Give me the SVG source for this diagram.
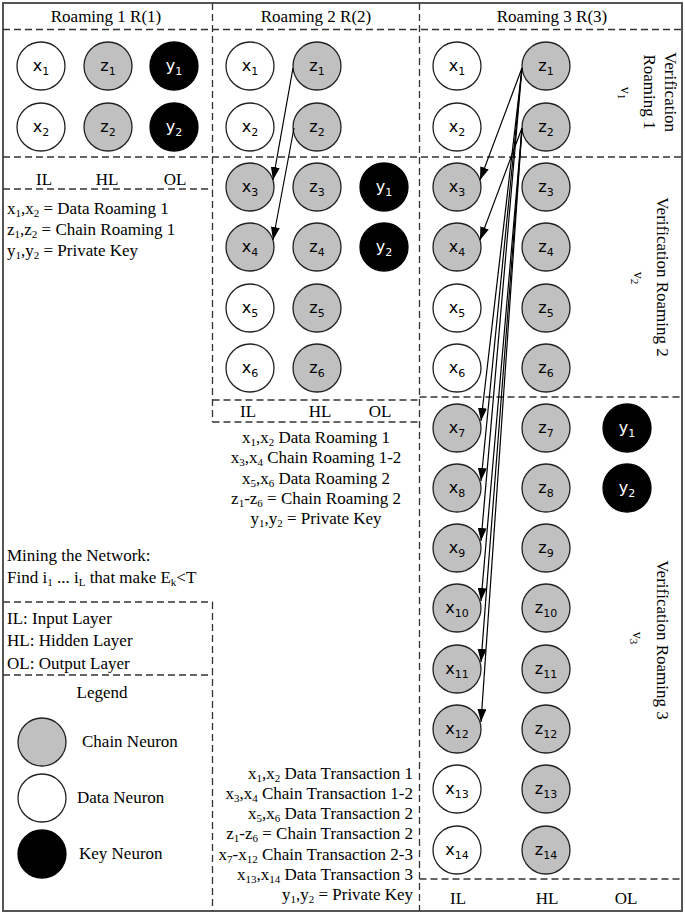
<svg xmlns="http://www.w3.org/2000/svg" width="685" height="915" viewBox="0 0 685 915">
<style>
.t{font-family:"Liberation Serif","Times New Roman",serif;font-size:17px;fill:#000}
.s{font-size:11px}
.m{text-anchor:middle}
.e{text-anchor:end}
.n{font-family:"DejaVu Sans",Verdana,sans-serif;font-size:16px;text-anchor:middle;fill:#000}
.ns{font-size:11px}
.w{fill:#fff;stroke:#222;stroke-width:1.3}
.g{fill:#c0c0c0;stroke:#222;stroke-width:1.3}
.k{fill:#000;stroke:#000;stroke-width:1.3}
.kt{fill:#fff}
.d{stroke:#333;stroke-width:1.3;stroke-dasharray:7 4;fill:none}
.a{stroke:#000;stroke-width:1.2;fill:none;marker-end:url(#ah)}
</style>
<defs>
<marker id="ah" markerUnits="userSpaceOnUse" markerWidth="13" markerHeight="9" refX="13" refY="4.5" orient="auto"><path d="M0,0 L13,4.5 L0,9 z" fill="#000"/></marker>
</defs>
<rect width="685" height="915" fill="#fff"/>
<g id="frame">
<rect x="3" y="3" width="679" height="908" fill="none" stroke="#555" stroke-width="2"/>
<line class="d" x1="3" y1="29.5" x2="682" y2="29.5"/>
<line class="d" x1="3" y1="157" x2="682" y2="157"/>
<line class="d" x1="3" y1="189" x2="212.5" y2="189"/>
<line class="d" x1="212.5" y1="3" x2="212.5" y2="422"/>
<line class="d" x1="212.5" y1="602" x2="212.5" y2="911"/>
<line class="d" x1="212.5" y1="400" x2="419.5" y2="400"/>
<line class="d" x1="212.5" y1="422" x2="419.5" y2="422"/>
<line class="d" x1="419.5" y1="3" x2="419.5" y2="911"/>
<line class="d" x1="419.5" y1="397" x2="682" y2="397"/>
<line class="d" x1="419.5" y1="879" x2="682" y2="879"/>
<line class="d" x1="3" y1="602" x2="212.5" y2="602"/>
<line class="d" x1="3" y1="675" x2="212.5" y2="675"/>
</g>
<g id="headers">
<text class="t m" x="106" y="22">Roaming 1 R(1)</text>
<text class="t m" x="316" y="22">Roaming 2 R(2)</text>
<text class="t m" x="552" y="22">Roaming 3 R(3)</text>
</g>
<g id="layer-labels">
<text class="t m" x="44" y="185">IL</text><text class="t m" x="107" y="185">HL</text><text class="t m" x="175" y="185">OL</text>
<text class="t m" x="248" y="417">IL</text><text class="t m" x="320" y="417">HL</text><text class="t m" x="380" y="417">OL</text>
<text class="t m" x="458" y="904">IL</text><text class="t m" x="547" y="904">HL</text><text class="t m" x="626" y="904">OL</text>
</g>
<g id="verification-labels">
<text class="t m" transform="translate(665,92) rotate(90)">Verification</text>
<text class="t m" transform="translate(644,92) rotate(90)">Roaming 1</text>
<text class="t m" transform="translate(621,93) rotate(90)" style="font-size:14px">v<tspan class="s" dy="3">1</tspan></text>
<text class="t m" transform="translate(657,277) rotate(90)">Verification Roaming 2</text>
<text class="t m" transform="translate(634,278) rotate(90)" style="font-size:14px">v<tspan class="s" dy="3">2</tspan></text>
<text class="t m" transform="translate(657,640) rotate(90)">Verification Roaming 3</text>
<text class="t m" transform="translate(633,638) rotate(90)" style="font-size:14px">v<tspan class="s" dy="3">3</tspan></text>
</g>
<g id="notes-r1">
<text class="t" x="7" y="214">x<tspan class="s" dy="3">1</tspan><tspan dy="-3">,x</tspan><tspan class="s" dy="3">2</tspan><tspan dy="-3"> = Data Roaming 1</tspan></text>
<text class="t" x="7" y="235">z<tspan class="s" dy="3">1</tspan><tspan dy="-3">,z</tspan><tspan class="s" dy="3">2</tspan><tspan dy="-3"> = Chain Roaming 1</tspan></text>
<text class="t" x="7" y="256">y<tspan class="s" dy="3">1</tspan><tspan dy="-3">,y</tspan><tspan class="s" dy="3">2</tspan><tspan dy="-3"> = Private Key</tspan></text>
</g>
<g id="mining">
<text class="t" x="7" y="561">Mining the Network:</text>
<text class="t" x="7" y="583">Find i<tspan class="s" dy="3">1</tspan><tspan dy="-3"> ... i</tspan><tspan class="s" dy="3">L</tspan><tspan dy="-3"> that make E</tspan><tspan class="s" dy="3">k</tspan><tspan dy="-3">&lt;T</tspan></text>
</g>
<g id="layer-key">
<text class="t" x="7" y="624">IL: Input Layer</text>
<text class="t" x="7" y="646">HL: Hidden Layer</text>
<text class="t" x="7" y="669">OL: Output Layer</text>
</g>
<g id="legend">
<text class="t m" x="102" y="698">Legend</text>
<g id="legend-chain"><circle class="g" cx="42" cy="742" r="24"/><text class="t" x="82" y="747">Chain Neuron</text></g>
<g id="legend-data"><circle class="w" cx="42" cy="798" r="24"/><text class="t" x="77" y="803">Data Neuron</text></g>
<g id="legend-key"><circle class="k" cx="42" cy="854" r="24"/><text class="t" x="79" y="859">Key Neuron</text></g>
</g>
<g id="notes-r2">
<text class="t m" x="316" y="443">x<tspan class="s" dy="3">1</tspan><tspan dy="-3">,x</tspan><tspan class="s" dy="3">2</tspan><tspan dy="-3"> Data Roaming 1</tspan></text>
<text class="t m" x="316" y="463">x<tspan class="s" dy="3">3</tspan><tspan dy="-3">,x</tspan><tspan class="s" dy="3">4</tspan><tspan dy="-3"> Chain Roaming 1-2</tspan></text>
<text class="t m" x="316" y="484">x<tspan class="s" dy="3">5</tspan><tspan dy="-3">,x</tspan><tspan class="s" dy="3">6</tspan><tspan dy="-3"> Data Roaming 2</tspan></text>
<text class="t m" x="316" y="504">z<tspan class="s" dy="3">1</tspan><tspan dy="-3">-z</tspan><tspan class="s" dy="3">6</tspan><tspan dy="-3"> = Chain Roaming 2</tspan></text>
<text class="t m" x="316" y="524">y<tspan class="s" dy="3">1</tspan><tspan dy="-3">,y</tspan><tspan class="s" dy="3">2</tspan><tspan dy="-3"> = Private Key</tspan></text>
</g>
<g id="notes-r3">
<text class="t e" x="413" y="779">x<tspan class="s" dy="3">1</tspan><tspan dy="-3">,x</tspan><tspan class="s" dy="3">2</tspan><tspan dy="-3"> Data Transaction 1</tspan></text>
<text class="t e" x="413" y="799">x<tspan class="s" dy="3">3</tspan><tspan dy="-3">,x</tspan><tspan class="s" dy="3">4</tspan><tspan dy="-3"> Chain Transaction 1-2</tspan></text>
<text class="t e" x="413" y="819">x<tspan class="s" dy="3">5</tspan><tspan dy="-3">,x</tspan><tspan class="s" dy="3">6</tspan><tspan dy="-3"> Data Transaction 2</tspan></text>
<text class="t e" x="413" y="839">z<tspan class="s" dy="3">1</tspan><tspan dy="-3">-z</tspan><tspan class="s" dy="3">6</tspan><tspan dy="-3"> = Chain Transaction 2</tspan></text>
<text class="t e" x="413" y="860">x<tspan class="s" dy="3">7</tspan><tspan dy="-3">-x</tspan><tspan class="s" dy="3">12</tspan><tspan dy="-3"> Chain Transaction 2-3</tspan></text>
<text class="t e" x="413" y="880">x<tspan class="s" dy="3">13</tspan><tspan dy="-3">,x</tspan><tspan class="s" dy="3">14</tspan><tspan dy="-3"> Data Transaction 3</tspan></text>
<text class="t e" x="413" y="900">y<tspan class="s" dy="3">1</tspan><tspan dy="-3">,y</tspan><tspan class="s" dy="3">2</tspan><tspan dy="-3"> = Private Key</tspan></text>
</g>
<g id="r1-nodes">
<g id="r1-x1"><circle class="w" cx="41" cy="66" r="24"/><text class="n" x="41" y="71">x<tspan class="ns" dy="4">1</tspan></text></g>
<g id="r1-z1"><circle class="g" cx="108" cy="66" r="24"/><text class="n" x="108" y="71">z<tspan class="ns" dy="4">1</tspan></text></g>
<g id="r1-y1"><circle class="k" cx="174" cy="66" r="24"/><text class="n kt" x="174" y="71">y<tspan class="ns" dy="4">1</tspan></text></g>
<g id="r1-x2"><circle class="w" cx="41" cy="127" r="24"/><text class="n" x="41" y="132">x<tspan class="ns" dy="4">2</tspan></text></g>
<g id="r1-z2"><circle class="g" cx="108" cy="127" r="24"/><text class="n" x="108" y="132">z<tspan class="ns" dy="4">2</tspan></text></g>
<g id="r1-y2"><circle class="k" cx="174" cy="127" r="24"/><text class="n kt" x="174" y="132">y<tspan class="ns" dy="4">2</tspan></text></g>
</g>
<g id="r2-nodes">
<g id="r2-x1"><circle class="w" cx="250" cy="66" r="24"/><text class="n" x="250" y="71">x<tspan class="ns" dy="4">1</tspan></text></g>
<g id="r2-z1"><circle class="g" cx="317" cy="66" r="24"/><text class="n" x="317" y="71">z<tspan class="ns" dy="4">1</tspan></text></g>
<g id="r2-x2"><circle class="w" cx="250" cy="127" r="24"/><text class="n" x="250" y="132">x<tspan class="ns" dy="4">2</tspan></text></g>
<g id="r2-z2"><circle class="g" cx="317" cy="127" r="24"/><text class="n" x="317" y="132">z<tspan class="ns" dy="4">2</tspan></text></g>
<g id="r2-x3"><circle class="g" cx="250" cy="187" r="24"/><text class="n" x="250" y="192">x<tspan class="ns" dy="4">3</tspan></text></g>
<g id="r2-z3"><circle class="g" cx="317" cy="187" r="24"/><text class="n" x="317" y="192">z<tspan class="ns" dy="4">3</tspan></text></g>
<g id="r2-y1"><circle class="k" cx="384" cy="187" r="24"/><text class="n kt" x="384" y="192">y<tspan class="ns" dy="4">1</tspan></text></g>
<g id="r2-x4"><circle class="g" cx="250" cy="247" r="24"/><text class="n" x="250" y="252">x<tspan class="ns" dy="4">4</tspan></text></g>
<g id="r2-z4"><circle class="g" cx="317" cy="247" r="24"/><text class="n" x="317" y="252">z<tspan class="ns" dy="4">4</tspan></text></g>
<g id="r2-y2"><circle class="k" cx="384" cy="247" r="24"/><text class="n kt" x="384" y="252">y<tspan class="ns" dy="4">2</tspan></text></g>
<g id="r2-x5"><circle class="w" cx="250" cy="308" r="24"/><text class="n" x="250" y="313">x<tspan class="ns" dy="4">5</tspan></text></g>
<g id="r2-z5"><circle class="g" cx="317" cy="308" r="24"/><text class="n" x="317" y="313">z<tspan class="ns" dy="4">5</tspan></text></g>
<g id="r2-x6"><circle class="w" cx="250" cy="368" r="24"/><text class="n" x="250" y="373">x<tspan class="ns" dy="4">6</tspan></text></g>
<g id="r2-z6"><circle class="g" cx="317" cy="368" r="24"/><text class="n" x="317" y="373">z<tspan class="ns" dy="4">6</tspan></text></g>
</g>
<g id="r3-nodes">
<g id="r3-x1"><circle class="w" cx="457" cy="66" r="24"/><text class="n" x="457" y="71">x<tspan class="ns" dy="4">1</tspan></text></g>
<g id="r3-z1"><circle class="g" cx="546" cy="66" r="24"/><text class="n" x="546" y="71">z<tspan class="ns" dy="4">1</tspan></text></g>
<g id="r3-x2"><circle class="w" cx="457" cy="127" r="24"/><text class="n" x="457" y="132">x<tspan class="ns" dy="4">2</tspan></text></g>
<g id="r3-z2"><circle class="g" cx="546" cy="127" r="24"/><text class="n" x="546" y="132">z<tspan class="ns" dy="4">2</tspan></text></g>
<g id="r3-x3"><circle class="g" cx="457" cy="187" r="24"/><text class="n" x="457" y="192">x<tspan class="ns" dy="4">3</tspan></text></g>
<g id="r3-z3"><circle class="g" cx="546" cy="187" r="24"/><text class="n" x="546" y="192">z<tspan class="ns" dy="4">3</tspan></text></g>
<g id="r3-x4"><circle class="g" cx="457" cy="247" r="24"/><text class="n" x="457" y="252">x<tspan class="ns" dy="4">4</tspan></text></g>
<g id="r3-z4"><circle class="g" cx="546" cy="247" r="24"/><text class="n" x="546" y="252">z<tspan class="ns" dy="4">4</tspan></text></g>
<g id="r3-x5"><circle class="w" cx="457" cy="308" r="24"/><text class="n" x="457" y="313">x<tspan class="ns" dy="4">5</tspan></text></g>
<g id="r3-z5"><circle class="g" cx="546" cy="308" r="24"/><text class="n" x="546" y="313">z<tspan class="ns" dy="4">5</tspan></text></g>
<g id="r3-x6"><circle class="w" cx="457" cy="368" r="24"/><text class="n" x="457" y="373">x<tspan class="ns" dy="4">6</tspan></text></g>
<g id="r3-z6"><circle class="g" cx="546" cy="368" r="24"/><text class="n" x="546" y="373">z<tspan class="ns" dy="4">6</tspan></text></g>
<g id="r3-x7"><circle class="g" cx="457" cy="428" r="24"/><text class="n" x="457" y="433">x<tspan class="ns" dy="4">7</tspan></text></g>
<g id="r3-z7"><circle class="g" cx="546" cy="428" r="24"/><text class="n" x="546" y="433">z<tspan class="ns" dy="4">7</tspan></text></g>
<g id="r3-y1"><circle class="k" cx="627" cy="428" r="24"/><text class="n kt" x="627" y="433">y<tspan class="ns" dy="4">1</tspan></text></g>
<g id="r3-x8"><circle class="g" cx="457" cy="488" r="24"/><text class="n" x="457" y="493">x<tspan class="ns" dy="4">8</tspan></text></g>
<g id="r3-z8"><circle class="g" cx="546" cy="488" r="24"/><text class="n" x="546" y="493">z<tspan class="ns" dy="4">8</tspan></text></g>
<g id="r3-y2"><circle class="k" cx="627" cy="488" r="24"/><text class="n kt" x="627" y="493">y<tspan class="ns" dy="4">2</tspan></text></g>
<g id="r3-x9"><circle class="g" cx="457" cy="548" r="24"/><text class="n" x="457" y="553">x<tspan class="ns" dy="4">9</tspan></text></g>
<g id="r3-z9"><circle class="g" cx="546" cy="548" r="24"/><text class="n" x="546" y="553">z<tspan class="ns" dy="4">9</tspan></text></g>
<g id="r3-x10"><circle class="g" cx="457" cy="608" r="24"/><text class="n" x="457" y="613">x<tspan class="ns" dy="4">10</tspan></text></g>
<g id="r3-z10"><circle class="g" cx="546" cy="608" r="24"/><text class="n" x="546" y="613">z<tspan class="ns" dy="4">10</tspan></text></g>
<g id="r3-x11"><circle class="g" cx="457" cy="669" r="24"/><text class="n" x="457" y="674">x<tspan class="ns" dy="4">11</tspan></text></g>
<g id="r3-z11"><circle class="g" cx="546" cy="669" r="24"/><text class="n" x="546" y="674">z<tspan class="ns" dy="4">11</tspan></text></g>
<g id="r3-x12"><circle class="g" cx="457" cy="729" r="24"/><text class="n" x="457" y="734">x<tspan class="ns" dy="4">12</tspan></text></g>
<g id="r3-z12"><circle class="g" cx="546" cy="729" r="24"/><text class="n" x="546" y="734">z<tspan class="ns" dy="4">12</tspan></text></g>
<g id="r3-x13"><circle class="w" cx="457" cy="789" r="24"/><text class="n" x="457" y="794">x<tspan class="ns" dy="4">13</tspan></text></g>
<g id="r3-z13"><circle class="g" cx="546" cy="789" r="24"/><text class="n" x="546" y="794">z<tspan class="ns" dy="4">13</tspan></text></g>
<g id="r3-x14"><circle class="w" cx="457" cy="850" r="24"/><text class="n" x="457" y="855">x<tspan class="ns" dy="4">14</tspan></text></g>
<g id="r3-z14"><circle class="g" cx="546" cy="850" r="24"/><text class="n" x="546" y="855">z<tspan class="ns" dy="4">14</tspan></text></g>
</g>
<g id="connectors">
<line class="a" x1="293" y1="68" x2="273" y2="180"/>
<line class="a" x1="294" y1="128" x2="273" y2="240"/>
<line class="a" x1="522" y1="68" x2="480" y2="180"/>
<line class="a" x1="522" y1="128" x2="480" y2="240"/>
<line class="a" x1="522" y1="68" x2="481" y2="421"/>
<line class="a" x1="522" y1="68" x2="481" y2="481"/>
<line class="a" x1="522" y1="68" x2="481" y2="541"/>
<line class="a" x1="522" y1="128" x2="481" y2="601"/>
<line class="a" x1="522" y1="128" x2="481" y2="662"/>
<line class="a" x1="522" y1="128" x2="481" y2="722"/>
</g>
</svg>
